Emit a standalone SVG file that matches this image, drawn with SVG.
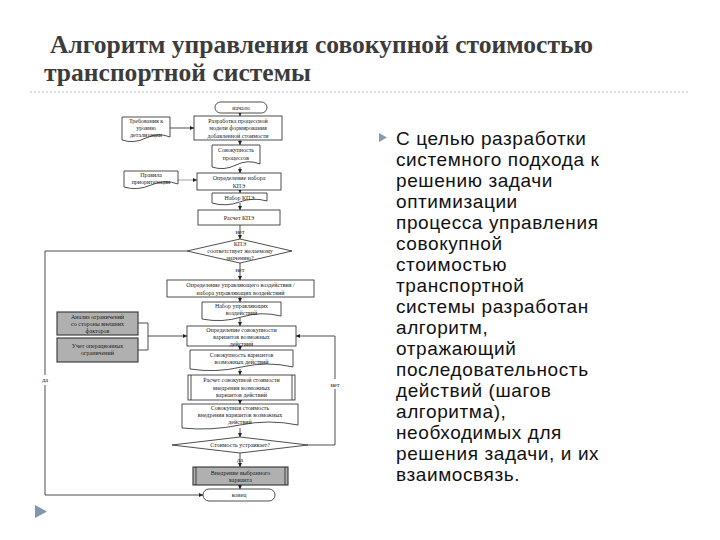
<svg xmlns="http://www.w3.org/2000/svg" width="720" height="540" viewBox="0 0 720 540">
<defs>
<style>
.title{font-family:"Liberation Serif","DejaVu Serif",serif;font-weight:bold;font-size:25px;fill:#3c3c3c}
.body{font-family:"Liberation Sans","DejaVu Sans",sans-serif;font-size:19px;fill:#111;letter-spacing:0.6px}
.ft{font-family:"Liberation Serif","DejaVu Serif",serif;font-size:6px;fill:#222;text-anchor:middle}
.shp{fill:#fff;stroke:#222;stroke-width:0.8}
.gray{fill:#b0b0b0;stroke:#333;stroke-width:1.1}
.ln{fill:none;stroke:#222;stroke-width:0.8}
.lbl{font-family:"Liberation Serif","DejaVu Serif",serif;font-size:6.5px;fill:#222;text-anchor:middle}
</style>
<marker id="ah" viewBox="0 0 6 6" refX="6" refY="3" markerWidth="5" markerHeight="5" orient="auto">
<path d="M0,0 L6,3 L0,6 Z" fill="#222"/>
</marker>
</defs>
<rect width="720" height="540" fill="#fff"/>

<g id="title">
<text class="title" x="50" y="53" textLength="543" lengthAdjust="spacingAndGlyphs">Алгоритм управления совокупной стоимостью</text>
<text class="title" x="44" y="81" textLength="267" lengthAdjust="spacingAndGlyphs">транспортной системы</text>
</g>
<line x1="30" y1="92" x2="690" y2="92" stroke="#bdbdbd" stroke-width="1" stroke-dasharray="2,2"/>

<g id="connectors">
<line class="ln" x1="240" y1="113" x2="240" y2="116" marker-end="url(#ah)"/>
<line class="ln" x1="240" y1="140" x2="240" y2="145" marker-end="url(#ah)"/>
<line class="ln" x1="240" y1="167" x2="240" y2="173" marker-end="url(#ah)"/>
<line class="ln" x1="240" y1="190" x2="240" y2="193" marker-end="url(#ah)"/>
<line class="ln" x1="240" y1="203" x2="240" y2="210" marker-end="url(#ah)"/>
<line class="ln" x1="240" y1="225" x2="240" y2="239" marker-end="url(#ah)"/>
<line class="ln" x1="240" y1="263" x2="240" y2="280" marker-end="url(#ah)"/>
<line class="ln" x1="240" y1="297" x2="240" y2="302" marker-end="url(#ah)"/>
<line class="ln" x1="240" y1="318" x2="240" y2="326" marker-end="url(#ah)"/>
<line class="ln" x1="240" y1="346" x2="240" y2="350" marker-end="url(#ah)"/>
<line class="ln" x1="240" y1="369" x2="240" y2="375" marker-end="url(#ah)"/>
<line class="ln" x1="240" y1="400" x2="240" y2="404" marker-end="url(#ah)"/>
<line class="ln" x1="240" y1="428" x2="240" y2="437" marker-end="url(#ah)"/>
<line class="ln" x1="240" y1="453" x2="240" y2="467" marker-end="url(#ah)"/>
<line class="ln" x1="240" y1="485" x2="240" y2="489" marker-end="url(#ah)"/>
<line class="ln" x1="170" y1="128" x2="194" y2="128" marker-end="url(#ah)"/>
<line x1="178" y1="180" x2="197" y2="180" stroke="#888" stroke-width="0.8" marker-end="url(#ah)"/>
<polyline class="ln" points="187,251 45,251 45,495 203,495" marker-end="url(#ah)"/>
<polyline class="ln" points="308,445 335,445 335,336 296,336" marker-end="url(#ah)"/>
<polyline class="ln" points="138,323 148,323 148,350 138,350"/>
<line class="ln" x1="148" y1="336" x2="187" y2="336" marker-end="url(#ah)"/>
<rect x="38" y="375" width="14" height="10" fill="#fff"/>
<text class="lbl" x="45" y="382">да</text>
<rect x="328" y="379" width="14" height="10" fill="#fff"/>
<text class="lbl" x="335" y="387">нет</text>
<text class="lbl" x="240" y="234">нет</text>
<text class="lbl" x="240" y="272">нет</text>
<text class="lbl" x="240" y="462">да</text>
</g>

<g id="n-start"><rect class="shp" x="215" y="102" width="52" height="11" rx="5.5"/><text class="ft" x="241" y="110">начало</text></g>
<g id="n-req"><path class="shp" d="M122,117 H170 V137 Q158,132 146,138 T122,140 Z"/><text class="ft" x="146" y="123">Требования к</text><text class="ft" x="146" y="130">уровню</text><text class="ft" x="146" y="137">детализации</text></g>
<g id="n-model"><rect class="shp" x="194" y="116" width="88" height="24"/><text class="ft" x="238" y="122.5">Разработка процессной</text><text class="ft" x="238" y="130">модели формирования</text><text class="ft" x="238" y="137.5">добавленной стоимости</text></g>
<g id="n-procs"><path class="shp" d="M212,145 H260 V164 Q248,159 236,165 T212,167 Z"/><text class="ft" x="236" y="152">Совокупность</text><text class="ft" x="236" y="159.5">процессов</text></g>
<g id="n-rules"><path class="shp" d="M124,171 H178 V184 Q164.5,179 151,185 T124,187 Z"/><text class="ft" x="151" y="177">Правила</text><text class="ft" x="151" y="184">приоритезации</text></g>
<g id="n-kpidef"><rect class="shp" x="197" y="173" width="84" height="17"/><text class="ft" x="239" y="180">Определение набора</text><text class="ft" x="239" y="187.5">КПЭ</text></g>
<g id="n-kpiset"><path class="shp" d="M212,193 H267 V201 Q253,197 239.5,202 T212,203 Z"/><text class="ft" x="239.5" y="199.5">Набор КПЭ</text></g>
<g id="n-kpicalc"><rect class="shp" x="198" y="210" width="82" height="15"/><text class="ft" x="239" y="219.5">Расчет КПЭ</text></g>
<g id="n-kpicheck"><polygon class="shp" points="187,251 240,239 292,251 240,263"/><text class="ft" x="240" y="246">КПЭ</text><text class="ft" x="240" y="253">соответствует желаемому</text><text class="ft" x="240" y="260">значению?</text></g>
<g id="n-ctrl"><rect class="shp" x="167" y="280" width="147" height="17"/><text class="ft" x="240.5" y="287">Определение управляющего воздействия /</text><text class="ft" x="240.5" y="294.5">набора управляющих воздействий</text></g>
<g id="n-ctrlset"><path class="shp" d="M202,302 H281 V316 Q261,311 241.5,317 T202,319 Z"/><text class="ft" x="241.5" y="308">Набор управляющих</text><text class="ft" x="241.5" y="315">воздействий</text></g>
<g id="n-ext"><rect class="gray" x="57" y="312" width="81" height="23"/><text class="ft" x="97.5" y="318.5">Анализ ограничений</text><text class="ft" x="97.5" y="325.5">со стороны внешних</text><text class="ft" x="97.5" y="332.5">факторов</text></g>
<g id="n-oper"><rect class="gray" x="57" y="338" width="81" height="24"/><text class="ft" x="97.5" y="347.5">Учет операционных</text><text class="ft" x="97.5" y="355">ограничений</text></g>
<g id="n-vardef"><rect class="shp" x="187" y="326" width="109" height="20"/><text class="ft" x="241.5" y="331.5">Определение совокупности</text><text class="ft" x="241.5" y="338.5">вариантов возможных</text><text class="ft" x="241.5" y="345.5">действий</text></g>
<g id="n-varset"><path class="shp" d="M190,350 H293 V367 Q267,361 241.5,367 T190,369 Z"/><text class="ft" x="241.5" y="357">Совокупность вариантов</text><text class="ft" x="241.5" y="364">возможных действий</text></g>
<g id="n-costcalc"><rect class="shp" x="188" y="375" width="107" height="25" stroke="#666" stroke-width="1.2"/><line class="ln" x1="191" y1="375" x2="191" y2="400" stroke="#999"/><line class="ln" x1="292" y1="375" x2="292" y2="400" stroke="#999"/><text class="ft" x="241.5" y="382">Расчет совокупной стоимости</text><text class="ft" x="241.5" y="389.5">внедрения возможных</text><text class="ft" x="241.5" y="397">вариантов действий</text></g>
<g id="n-costset"><path class="shp" d="M182,404 H298 V425 Q269,419 240,425 T182,428 Z"/><text class="ft" x="240" y="410">Совокупная стоимость</text><text class="ft" x="240" y="417">внедрения вариантов возможных</text><text class="ft" x="240" y="424">действий</text></g>
<g id="n-costcheck"><polygon class="shp" points="172,445 240,437 308,445 240,453"/><text class="ft" x="240" y="447">Стоимость устраивает?</text></g>
<g id="n-impl"><rect class="gray" x="193" y="467" width="95" height="18"/><line class="ln" x1="196" y1="467" x2="196" y2="485"/><line class="ln" x1="285" y1="467" x2="285" y2="485"/><text class="ft" x="240.5" y="474.5">Внедрение выбранного</text><text class="ft" x="240.5" y="482">варианта</text></g>
<g id="n-end"><rect class="shp" x="203" y="489" width="72" height="12" rx="6"/><text class="ft" x="239" y="497">конец</text></g>

<g id="bullet-text">
<polygon points="379,133 387,137.5 379,142" fill="#8a9bb0"/>
<text class="body">
<tspan x="396" y="145">С целью разработки</tspan>
<tspan x="396" y="166">системного подхода к</tspan>
<tspan x="396" y="187">решению задачи</tspan>
<tspan x="396" y="208">оптимизации</tspan>
<tspan x="396" y="229">процесса управления</tspan>
<tspan x="396" y="250">совокупной</tspan>
<tspan x="396" y="271">стоимостью</tspan>
<tspan x="396" y="292">транспортной</tspan>
<tspan x="396" y="313">системы разработан</tspan>
<tspan x="396" y="334">алгоритм,</tspan>
<tspan x="396" y="355">отражающий</tspan>
<tspan x="396" y="376">последовательность</tspan>
<tspan x="396" y="397">действий (шагов</tspan>
<tspan x="396" y="418">алгоритма),</tspan>
<tspan x="396" y="439">необходимых для</tspan>
<tspan x="396" y="460">решения задачи, и их</tspan>
<tspan x="396" y="481">взаимосвязь.</tspan>
</text>
</g>
<polygon points="35,505 47,511.5 35,518" fill="#7e96b3"/>
</svg>
